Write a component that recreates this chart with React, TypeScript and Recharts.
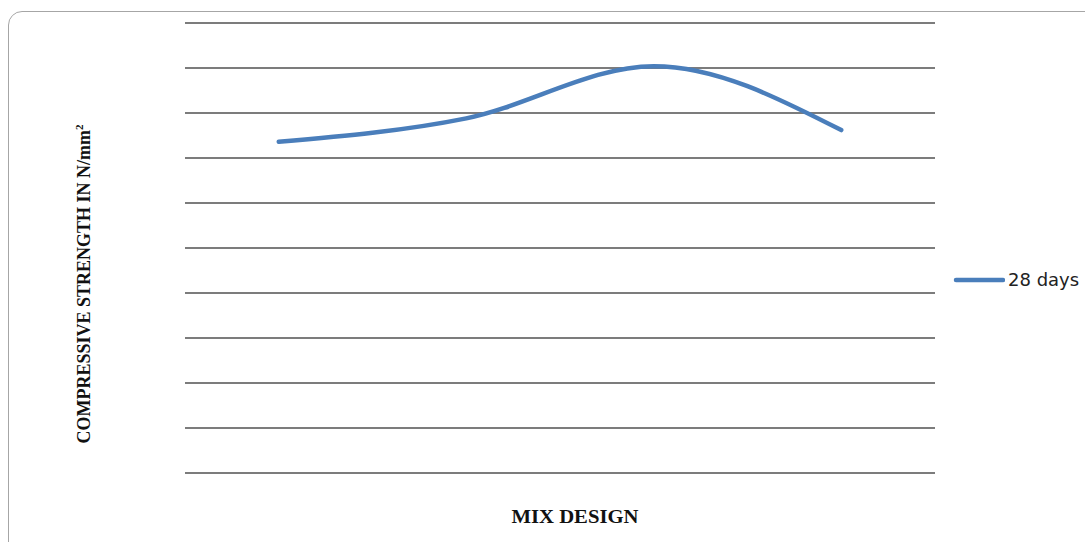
import React from 'react'
import { LineChart, Line, XAxis, YAxis, CartesianGrid } from 'recharts'

// mix designs along the x axis (no labels shown in the original)
const mixes = ['M1', 'M2', 'M3', 'M4']
// 28 day compressive strength, N/mm2
const strength28 = [36.8, 39.4, 45.2, 38.1]
const yTicks = [0, 5, 10, 15, 20, 25, 30, 35, 40, 45, 50]

const data = mixes.map((m, i) => ({ mix: m, d28: strength28[i] }))

const serif = '"Liberation Serif", "Times New Roman", serif'

export default function App() {
  return (
    <div style={{ position: 'absolute', left: 0, top: 0, width: 1085, height: 542, overflow: 'hidden', background: '#fff' }}>
      <div
        style={{
          position: 'absolute',
          left: 8,
          top: 11,
          width: 1100,
          height: 560,
          border: '1px solid #a6a6a6',
          borderRadius: 14,
        }}
      />
      <div style={{ position: 'absolute', left: 0, top: 0 }}>
        <LineChart width={1085} height={542} data={data} margin={{ top: 23, right: 150, bottom: 69, left: 185 }}>
          <CartesianGrid vertical={false} horizontalValues={yTicks} stroke="#505050" strokeWidth={1.5} />
          <XAxis dataKey="mix" hide padding={{ left: 93.75, right: 93.75 }} />
          <YAxis domain={[0, 50]} ticks={yTicks} hide />
          <Line
            type="monotone"
            dataKey="d28"
            name="28 days"
            stroke="#4a7ebb"
            strokeWidth={4.5}
            dot={false}
            strokeLinecap="round"
            isAnimationActive={false}
          />
        </LineChart>
      </div>
      {/* legend */}
      <div
        style={{
          position: 'absolute',
          left: 953,
          top: 269,
          display: 'flex',
          alignItems: 'center',
          fontFamily: '"DejaVu Sans", Verdana, sans-serif',
          fontSize: 18,
          color: '#222',
        }}
      >
        <svg width={52} height={10}>
          <line x1={3} y1={5} x2={50} y2={5} stroke="#4a7ebb" strokeWidth={4.5} strokeLinecap="round" />
        </svg>
        <span style={{ marginLeft: 3 }}>28 days</span>
      </div>
      <div
        style={{
          position: 'absolute',
          left: 84,
          top: 284,
          transform: 'translate(-50%, -50%) rotate(-90deg)',
          whiteSpace: 'nowrap',
          fontFamily: serif,
          fontWeight: 'bold',
          fontSize: 18,
          color: '#111',
        }}
      >
        COMPRESSIVE STRENGTH IN N/mm<sup style={{ fontSize: 11 }}>2</sup>
      </div>
      <div
        style={{
          position: 'absolute',
          left: 575,
          top: 517,
          transform: 'translate(-50%, -50%) scaleX(1.15)',
          whiteSpace: 'nowrap',
          fontFamily: serif,
          fontWeight: 'bold',
          fontSize: 18,
          color: '#111',
        }}
      >
        MIX DESIGN
      </div>
    </div>
  )
}
